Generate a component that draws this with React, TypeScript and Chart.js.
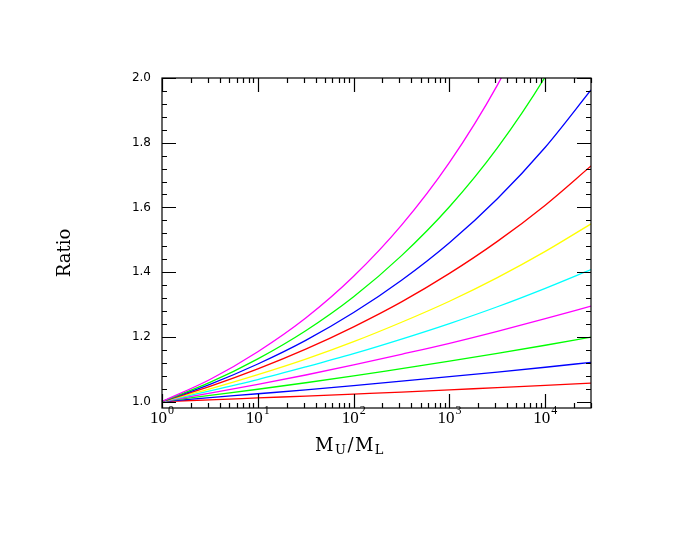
import React, { useEffect, useRef } from "react";
import { Chart, registerables } from "chart.js";

Chart.register(...registerables);

// ---- data ----
const xValues = [1, 3.162, 10, 31.62, 100, 316.2, 1000, 3162, 10000, 30000];
const s1Y = [1.0, 1.068, 1.154, 1.258, 1.387, 1.545, 1.739, 1.978, 2.272];
const s2Y = [1.0, 1.059, 1.132, 1.219, 1.324, 1.451, 1.602, 1.784, 2.004, 2.257];
const s3Y = [1.0, 1.053, 1.116, 1.189, 1.275, 1.375, 1.491, 1.627, 1.786, 1.963];
const s4Y = [1.0, 1.047, 1.101, 1.162, 1.231, 1.308, 1.396, 1.495, 1.607, 1.728];
const s5Y = [1.0, 1.039, 1.083, 1.131, 1.185, 1.245, 1.31, 1.383, 1.464, 1.549];
const s6Y = [1.0, 1.033, 1.068, 1.107, 1.148, 1.193, 1.241, 1.293, 1.35, 1.408];
const s7Y = [1.0, 1.026, 1.053, 1.082, 1.113, 1.146, 1.18, 1.217, 1.256, 1.295];
const s8Y = [1.0, 1.019, 1.038, 1.058, 1.079, 1.102, 1.125, 1.149, 1.174, 1.199];
const s9Y = [1.0, 1.012, 1.024, 1.036, 1.049, 1.063, 1.077, 1.091, 1.106, 1.121];
const s10Y = [1.0, 1.005, 1.011, 1.017, 1.023, 1.029, 1.036, 1.043, 1.05, 1.057];

const seriesColors = [
  "#ff00ff", "#00ff00", "#0000ff", "#ff0000", "#ffff00",
  "#00ffff", "#ff00ff", "#00ff00", "#0000ff", "#ff0000",
];

const yMajorTicks = [1.0, 1.2, 1.4, 1.6, 1.8, 2.0];
const yMinorStep = 0.04;
const xDecades = [1, 10, 100, 1000, 10000];
const xExponents = ["0", "1", "2", "3", "4"];
const xMin = 1;
const xMax = 30000;
const yMin = 0.98;
const yMax = 2.0;

function pts(xs: number[], ys: number[]) {
  return ys.map((y, i) => ({ x: xs[i], y }));
}

const framePlugin = {
  id: "frameTicks",
  afterDatasetsDraw(chart: any) {
    const { ctx, chartArea } = chart;
    const { left, right, top, bottom } = chartArea;
    const xs = chart.scales.x;
    const ys = chart.scales.y;
    ctx.save();
    ctx.strokeStyle = "#000";
    ctx.lineWidth = 1.2;
    ctx.strokeRect(left, top, right - left, bottom - top);
    const major = 14;
    const minor = 5;
    ctx.beginPath();
    for (let v = 1.0; v <= yMax + 1e-9; v += yMinorStep) {
      const isMajor = yMajorTicks.some((m) => Math.abs(m - v) < 1e-6);
      const len = isMajor ? major : minor;
      const py = Math.round(ys.getPixelForValue(v)) + 0.5;
      ctx.moveTo(left, py);
      ctx.lineTo(left + len, py);
      ctx.moveTo(right, py);
      ctx.lineTo(right - len, py);
    }
    for (const d of xDecades) {
      for (let m = 1; m <= 9; m++) {
        const v = d * m;
        if (v < xMin || v > xMax) continue;
        const len = m === 1 ? major : minor;
        const px = Math.round(xs.getPixelForValue(v)) + 0.5;
        ctx.moveTo(px, bottom);
        ctx.lineTo(px, bottom - len);
        ctx.moveTo(px, top);
        ctx.lineTo(px, top + len);
      }
    }
    ctx.stroke();

    // x tick labels with superscript exponent
    ctx.fillStyle = "#000";
    ctx.textBaseline = "alphabetic";
    ctx.textAlign = "left";
    const baseFont = "17px 'Liberation Serif'";
    const supFont = "12px 'Liberation Serif'";
    xDecades.forEach((d, i) => {
      const px = xs.getPixelForValue(d);
      ctx.font = baseFont;
      const w1 = ctx.measureText("10").width;
      ctx.font = supFont;
      const w2 = ctx.measureText(xExponents[i]).width;
      const start = px - (w1 + w2 + 1) / 2;
      ctx.font = baseFont;
      ctx.fillText("10", start, bottom + 15);
      ctx.font = supFont;
      ctx.fillText(xExponents[i], start + w1 + 1, bottom + 6);
    });

    // x title M_U/M_L
    const big = "18px 'DejaVu Serif'";
    const sub = "13px 'DejaVu Serif'";
    const parts: [string, string, number][] = [
      ["M", big, 0],
      ["U", sub, 3],
      ["/", big, 0],
      ["M", big, 0],
      ["L", sub, 3],
    ];
    const gap = 1.5;
    let total = 0;
    for (const [t, f] of parts) {
      ctx.font = f;
      total += ctx.measureText(t).width + gap;
    }
    let cx = 350 - total / 2;
    const base = bottom + 43;
    for (const [t, f, dy] of parts) {
      ctx.font = f;
      ctx.fillText(t, cx, base + dy);
      cx += ctx.measureText(t).width + gap;
    }

    // y title
    ctx.save();
    ctx.translate(left - 97, 253);
    ctx.rotate(-Math.PI / 2);
    ctx.font = "18px 'DejaVu Serif'";
    ctx.textAlign = "center";
    ctx.textBaseline = "middle";
    ctx.fillText("Ratio", 0, 0);
    ctx.restore();

    ctx.restore();
  },
};

export default function App() {
  const ref = useRef<HTMLCanvasElement | null>(null);
  useEffect(() => {
    if (!ref.current) return;
    const allY = [s1Y, s2Y, s3Y, s4Y, s5Y, s6Y, s7Y, s8Y, s9Y, s10Y];
    const datasets: any[] = allY.map((ys, i) => ({
      data: pts(xValues, ys),
      borderColor: seriesColors[i],
      borderWidth: 1.3,
      pointRadius: 0,
      fill: false,
      cubicInterpolationMode: "monotone",
    }));
    const chart = new Chart(ref.current, {
      type: "line",
      data: { datasets },
      options: {
        animation: false,
        responsive: false,
        layout: { padding: { left: 0, right: 101, top: 78, bottom: 0 } },
        plugins: { legend: { display: false }, tooltip: { enabled: false } },
        scales: {
          x: {
            type: "logarithmic",
            min: xMin,
            max: xMax,
            grid: { display: false, drawTicks: false },
            border: { display: false },
            ticks: { display: false },
            afterFit: (s: any) => {
              s.height = 127;
            },
          },
          y: {
            type: "linear",
            min: yMin,
            max: yMax,
            grid: { display: false, drawTicks: false },
            border: { display: false },
            afterBuildTicks: (s: any) => {
              s.ticks = yMajorTicks.map((v) => ({ value: v }));
            },
            ticks: {
              padding: 11,
              color: "#000",
              font: { family: "'DejaVu Sans'", size: 12 },
              callback: (v: any) => Number(v).toFixed(1),
            },
            afterFit: (s: any) => {
              s.width = 162;
            },
          },
        },
      } as any,
      plugins: [framePlugin],
    });
    return () => chart.destroy();
  }, []);
  return (
    <div style={{ position: "fixed", left: 0, top: 0, width: 692, height: 535, background: "#fff" }}>
      <canvas ref={ref} width={692} height={535} style={{ width: 692, height: 535 }} />
    </div>
  );
}
